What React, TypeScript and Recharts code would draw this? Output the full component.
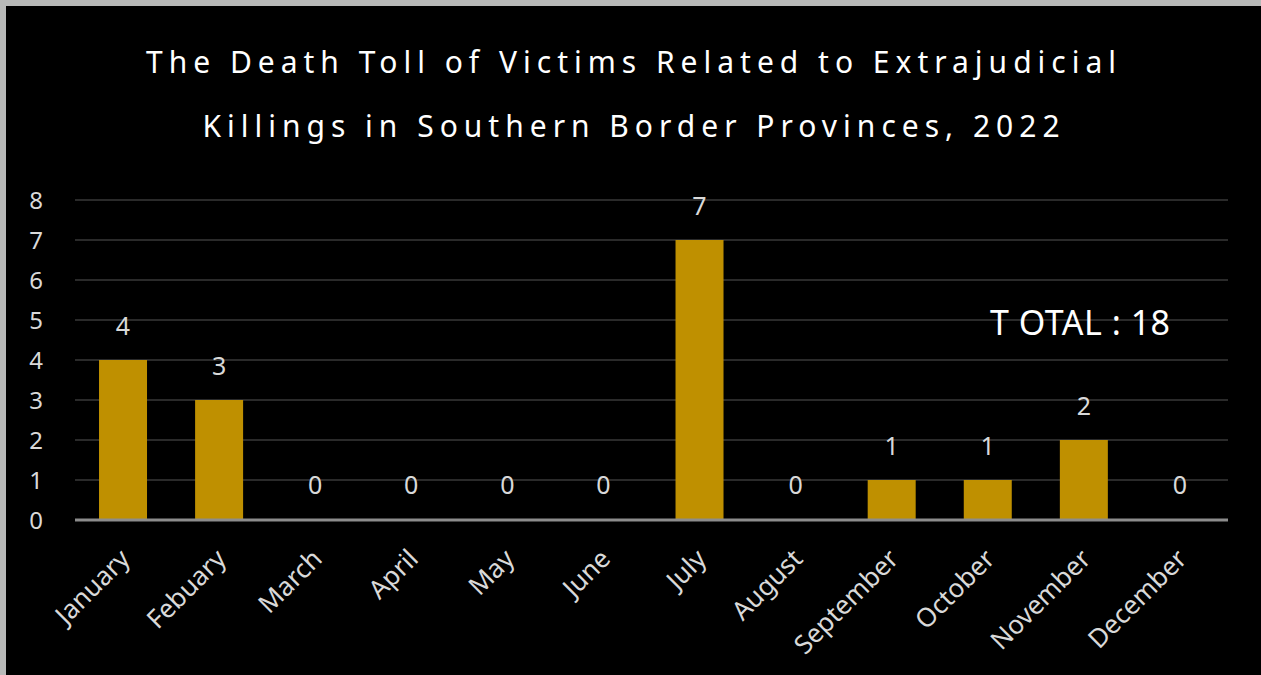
import React from 'react';
import { BarChart, Bar, XAxis, YAxis, CartesianGrid, LabelList, Rectangle } from 'recharts';

const months = [
  'January', 'Febuary', 'March', 'April', 'May', 'June',
  'July', 'August', 'September', 'October', 'November', 'December',
];
const deaths = [4, 3, 0, 0, 0, 0, 7, 0, 1, 1, 2, 0];
const yTicks = [0, 1, 2, 3, 4, 5, 6, 7, 8];
const titleLines = [
  'The Death Toll of Victims Related to Extrajudicial',
  'Killings in Southern Border Provinces, 2022',
];
const totalLabel = 'T OTAL : 18';

const data = months.map((month, i) => ({ month, deaths: deaths[i] }));

const FONT = '"Noto Sans", "Open Sans", sans-serif';

function MonthTick(props: any) {
  const { x, y, payload } = props;
  return (
    <g transform={`translate(${x + 2},${y + 26})`}>
      <text
        x={0}
        y={0}
        dy="0.35em"
        textAnchor="end"
        transform="rotate(-45)"
        fill="#d9d9d9"
        fontSize={26}
        fontFamily={FONT}
      >
        {payload.value}
      </text>
    </g>
  );
}

// zero-value bars still get a slot (so the "0" label shows), but draw nothing
function BarShape(props: any) {
  if (!props.value) return null;
  return <Rectangle {...props} />;
}

export default function App() {
  return (
    <div style={{ position: 'absolute', left: 0, top: 0, width: 1261, height: 675, background: '#b8b9b8' }}>
      <div style={{ position: 'absolute', left: 6, top: 6, width: 1255, height: 669, background: '#000' }} />
      {titleLines.map((line, i) => (
        <div
          key={i}
          style={{
            position: 'absolute', left: 0, width: 1268, top: 42 + i * 64, textAlign: 'center',
            color: '#fff', fontFamily: FONT, fontSize: 30, letterSpacing: 6, lineHeight: '40px',
          }}
        >
          {line}
        </div>
      ))}
      <div style={{ position: 'absolute', left: 0, top: 0 }}>
        <BarChart
          width={1261}
          height={675}
          data={data}
          barCategoryGap="25%"
          margin={{ top: 200, right: 33, left: 15, bottom: 125 }}
        >
          <CartesianGrid vertical={false} stroke="#2a2a2a" strokeWidth={2} />
          <XAxis
            dataKey="month"
            interval={0}
            tickLine={false}
            axisLine={{ stroke: '#8c8c8c', strokeWidth: 3 }}
            tick={<MonthTick />}
          />
          <YAxis
            width={60}
            domain={[0, 8]}
            ticks={yTicks}
            interval={0}
            tickLine={false}
            axisLine={false}
            tickMargin={26}
            tick={{ fill: '#d9d9d9', fontSize: 24, fontFamily: FONT }}
          />
          <Bar
            dataKey="deaths"
            fill="#bf9000"
            minPointSize={1}
            shape={<BarShape />}
            isAnimationActive={false}
          >
            <LabelList
              dataKey="deaths"
              position="top"
              offset={25}
              fill="#d9d9d9"
              fontSize={25}
              fontFamily={FONT}
            />
          </Bar>
        </BarChart>
      </div>
      <div
        style={{
          position: 'absolute', left: 990, top: 300, color: '#fff', fontFamily: FONT,
          fontSize: 34, letterSpacing: 0.5, lineHeight: '44px', whiteSpace: 'nowrap',
        }}
      >
        {totalLabel}
      </div>
    </div>
  );
}
